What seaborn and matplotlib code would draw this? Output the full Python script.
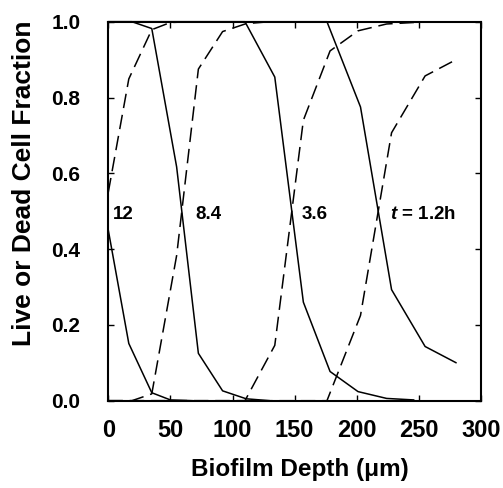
import matplotlib
matplotlib.use("Agg")
import matplotlib.pyplot as plt
import seaborn as sns
import pandas as pd

# Live (solid) and dead (dashed) cell fractions vs. depth, one pair per time point
depth_12 = [0, 16.5, 35, 50, 68]
live_12 = [0.45, 0.151, 0.021, 0.002, 0.0]
dead_12 = [0.55, 0.849, 0.979, 0.998, 1.0]

depth_84 = [0, 19, 35, 55, 72.5, 92, 111, 130]
live_84 = [1.0, 1.0, 0.982, 0.617, 0.125, 0.026, 0.005, 0.0]
dead_84 = [0.0, 0.0, 0.018, 0.383, 0.875, 0.974, 0.995, 1.0]

depth_36 = [0, 110, 134, 157, 178.5, 201, 224, 246]
live_36 = [1.0, 1.0, 0.854, 0.26, 0.077, 0.024, 0.006, 0.002]
dead_36 = [0.0, 0.0, 0.146, 0.74, 0.923, 0.976, 0.994, 0.998]

depth_12h = [0, 176, 203, 228, 255, 280]
live_12h = [1.0, 1.0, 0.775, 0.293, 0.143, 0.10]
dead_12h = [0.0, 0.0, 0.225, 0.707, 0.857, 0.90]

time_labels = ["12", "8.4", "3.6", r"$t$ = 1.2h"]
label_x = [4, 70, 156, 227]
label_y = 0.49

x_ticks = [0, 50, 100, 150, 200, 250, 300]
y_ticks = [0.0, 0.2, 0.4, 0.6, 0.8, 1.0]

sns.set_theme(style="ticks")
plt.rcParams["font.family"] = ["Liberation Sans", "DejaVu Sans"]
plt.rcParams["font.weight"] = "bold"
plt.rcParams["mathtext.fontset"] = "custom"
plt.rcParams["mathtext.it"] = "Liberation Sans:italic:bold"
plt.rcParams["mathtext.rm"] = "Liberation Sans:bold"
for key in ["text.color", "axes.labelcolor", "xtick.color", "ytick.color",
            "axes.edgecolor"]:
    plt.rcParams[key] = "black"

fig = plt.figure(figsize=(5.03, 4.88), dpi=100)
ax = fig.add_axes([0.2153, 0.1789, 0.741, 0.7766])

series = [
    (depth_12, live_12, dead_12),
    (depth_84, live_84, dead_84),
    (depth_36, live_36, dead_36),
    (depth_12h, live_12h, dead_12h),
]
for depth, live, dead in series:
    df = pd.DataFrame({"depth": depth, "live": live, "dead": dead})
    sns.lineplot(data=df, x="depth", y="live", ax=ax, color="black",
                 lw=1.1, sort=False, clip_on=False)
    sns.lineplot(data=df, x="depth", y="dead", ax=ax, color="black",
                 lw=1.1, sort=False, clip_on=False, dashes=False,
                 linestyle=(0, (9.5, 4.5)))

for txt, lx in zip(time_labels, label_x):
    ax.text(lx, label_y, txt, ha="left", va="center", fontsize=13.5,
            fontweight="bold", color="black")

ax.set_xlim(0, 300)
ax.set_ylim(0, 1.0)
ax.set_xticks(x_ticks)
ax.set_yticks(y_ticks)
ax.set_yticklabels([f"{v:.1f}" for v in y_ticks])
ax.tick_params(axis="both", direction="in", length=4, width=1,
               top=True, right=True, colors="black")
ax.tick_params(axis="x", labelsize=17, pad=13)
ax.tick_params(axis="y", labelsize=15, pad=20)
for lab in ax.get_xticklabels() + ax.get_yticklabels():
    lab.set_fontweight("bold")
for sp in ax.spines.values():
    sp.set_linewidth(1.5)
    sp.set_color("black")

ax.set_xlabel("Biofilm Depth (\u03bcm)", fontsize=17.5, fontweight="bold")
ax.set_ylabel("Live or Dead Cell Fraction", fontsize=19, fontweight="bold")
ax.xaxis.set_label_coords(0.514, -0.152)
ax.yaxis.set_label_coords(-0.193, 0.574)

fig.savefig("out.png", dpi=100, facecolor="white")
